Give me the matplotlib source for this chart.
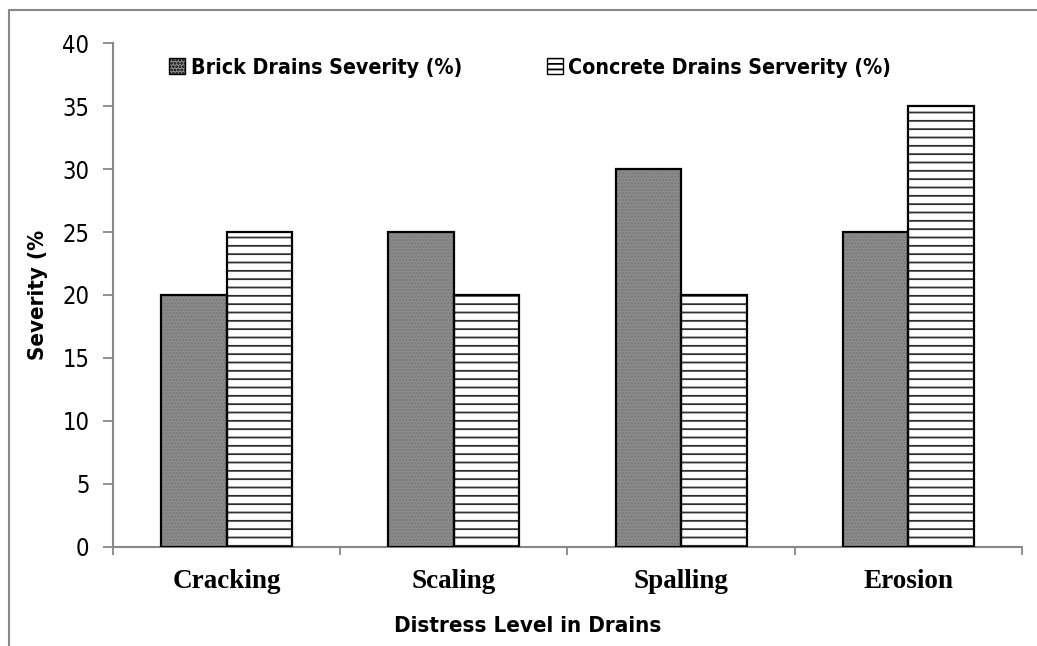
import matplotlib.pyplot as plt
import numpy as np
from matplotlib.patches import Patch
from matplotlib.lines import Line2D

categories = ['Cracking', 'Scaling', 'Spalling', 'Erosion']
brick = [20, 25, 30, 25]
concrete = [25, 20, 20, 35]
yticks = [0, 5, 10, 15, 20, 25, 30, 35, 40]

narrow = {'family': 'DejaVu Sans', 'stretch': 'condensed'}
plt.rcParams['hatch.linewidth'] = 1.3

fig = plt.figure(figsize=(10.37, 6.46), dpi=100)
ax = fig.add_axes([0.109, 0.1533, 0.8765, 0.7801])

x = np.arange(len(categories))
w = 0.288

# brick bars: gray with fine dot texture
ax.bar(x - w / 2, brick, w, color='#8e8e8e', edgecolor='#777777', hatch='.....', lw=0, zorder=2)
ax.bar(x - w / 2, brick, w, fill=False, edgecolor='black', lw=1.6, zorder=3)
# concrete bars: white with horizontal stripes
ax.bar(x + w / 2, concrete, w, color='white', edgecolor='#303030', hatch='--', lw=0, zorder=2)
ax.bar(x + w / 2, concrete, w, fill=False, edgecolor='black', lw=1.6, zorder=3)

ax.set_xlim(-0.5, len(categories) - 0.5)
ax.set_ylim(0, 40)
ax.set_yticks(yticks)
ax.set_yticklabels([str(v) for v in yticks], fontsize=17, **narrow)
ax.set_xticks(np.arange(len(categories) + 1) - 0.5)
ax.set_xticklabels([])
ax.set_xticks(x, minor=True)
ax.set_xticklabels(categories, minor=True)
for t in ax.get_xticklabels(minor=True):
    t.set_fontfamily('Liberation Serif')
    t.set_fontweight('bold')
    t.set_fontsize(19.5)
ax.tick_params(axis='x', which='minor', length=0, pad=16)
ax.tick_params(axis='x', which='major', length=6, color='#888888', width=1.3, direction='out')
ax.tick_params(axis='y', length=7, color='#888888', width=1.3, pad=10)

for s in ['top', 'right']:
    ax.spines[s].set_visible(False)
for s in ['left', 'bottom']:
    ax.spines[s].set_color('#888888')
    ax.spines[s].set_linewidth(1.5)

ax.set_ylabel('Severity (%', fontweight='bold', fontsize=16, **narrow)
ax.yaxis.set_label_coords(-0.071, 0.5)
ax.set_xlabel('Distress Level in Drains', fontweight='bold', fontsize=16, **narrow)
ax.xaxis.set_label_coords(0.456, -0.136)

handles = [
    Patch(facecolor='#8e8e8e', edgecolor='black', hatch='.....', lw=1.0),
    Patch(facecolor='white', edgecolor='black', hatch='---', lw=1.0),
]
leg = ax.legend(handles, ['Brick Drains Severity (%)', 'Concrete Drains Serverity (%)'],
                loc='upper left', bbox_to_anchor=(0.041, 1.009), ncol=2, frameon=False,
                handlelength=0.75, handleheight=0.75, handletextpad=0.25, columnspacing=4.0,
                prop={'family': 'DejaVu Sans', 'stretch': 'condensed', 'weight': 'bold', 'size': 15.3})

# page border around the chart
fig.add_artist(Line2D([0.0087, 0.0087, 1.0], [0.0, 0.9845, 0.9845], color='#888888', lw=1.5,
                      transform=fig.transFigure))

fig.savefig('out.png', dpi=100)
